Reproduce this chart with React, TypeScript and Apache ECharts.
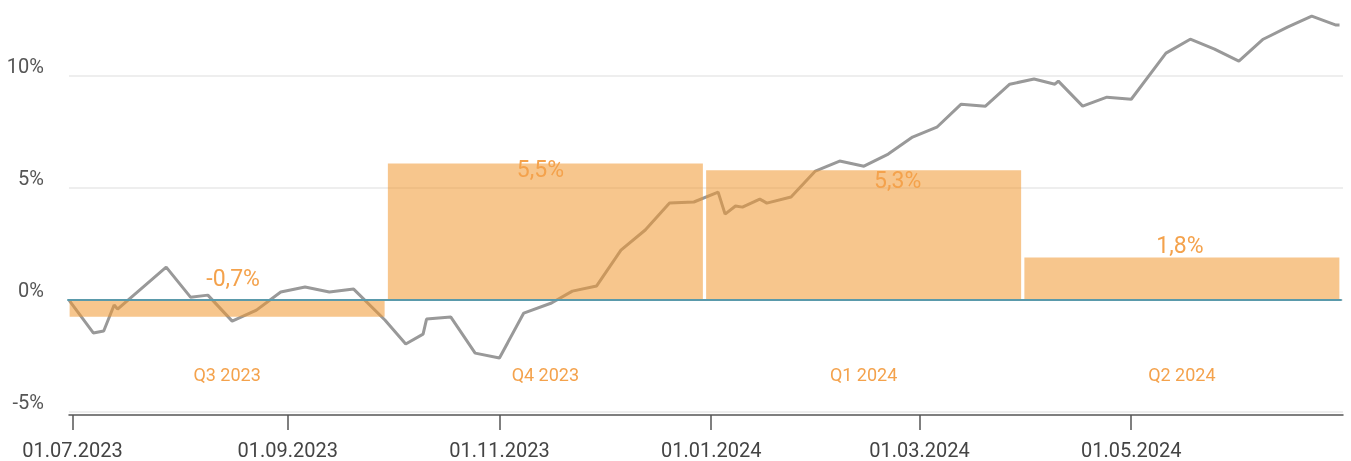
import React, { useEffect, useRef } from "react";
import * as echarts from "echarts";

// ---- data ----
const lineDates = [
  "2023-06-30", "2023-07-07", "2023-07-10", "2023-07-13", "2023-07-14", "2023-07-22", "2023-07-28",
  "2023-08-04", "2023-08-09", "2023-08-16", "2023-08-23", "2023-08-30", "2023-09-06", "2023-09-13",
  "2023-09-20", "2023-09-29", "2023-10-05", "2023-10-10", "2023-10-11", "2023-10-18", "2023-10-25",
  "2023-11-01", "2023-11-08", "2023-11-16", "2023-11-22", "2023-11-29", "2023-12-06", "2023-12-13",
  "2023-12-20", "2023-12-27", "2024-01-03", "2024-01-05", "2024-01-08", "2024-01-10", "2024-01-15",
  "2024-01-17", "2024-01-24", "2024-01-31", "2024-02-07", "2024-02-14", "2024-02-21", "2024-02-28",
  "2024-03-06", "2024-03-13", "2024-03-20", "2024-03-27", "2024-04-03", "2024-04-09", "2024-04-10",
  "2024-04-17", "2024-04-24", "2024-05-01", "2024-05-11", "2024-05-18", "2024-05-25", "2024-06-01",
  "2024-06-08", "2024-06-15", "2024-06-22", "2024-06-29", "2024-06-30",
];
const lineValues = [
  0, -1.47, -1.38, -0.22, -0.4, 0.67, 1.47,
  0.13, 0.22, -0.94, -0.45, 0.36, 0.58, 0.36,
  0.49, -0.89, -1.96, -1.52, -0.85, -0.76, -2.37,
  -2.59, -0.58, -0.13, 0.4, 0.63, 2.23, 3.13,
  4.33, 4.38, 4.82, 3.84, 4.2, 4.15, 4.51,
  4.33, 4.6, 5.76, 6.21, 5.98, 6.52, 7.28,
  7.72, 8.75, 8.66, 9.64, 9.87, 9.64, 9.78,
  8.66, 9.06, 8.97, 11.03, 11.65, 11.21, 10.67,
  11.65, 12.19, 12.68, 12.28, 12.28,
];
const quarters = ["Q3 2023", "Q4 2023", "Q1 2024", "Q2 2024"];
const quarterReturns = [-0.7, 5.5, 5.3, 1.8];
const quarterBarHeights = [-0.75, 6.1, 5.8, 1.9];
const dateTicks = ["2023-07-01", "2023-09-01", "2023-11-01", "2024-01-01", "2024-03-01", "2024-05-01"];
const yTicks = [-5, 0, 5, 10];
const xStart = "2023-06-30";
const xEnd = "2024-07-01";
const yMin = -5;
const yMax = 13;

const ts = (d: string) => {
  const [y, m, dd] = d.split("-").map(Number);
  return Date.UTC(y, m - 1, dd);
};
const pad = (n: number) => (n < 10 ? "0" + n : "" + n);
const fmtDate = (v: number) => {
  const d = new Date(v);
  return pad(d.getUTCDate()) + "." + pad(d.getUTCMonth() + 1) + "." + d.getUTCFullYear();
};
const fmtPct = (v: number) => v.toFixed(1).replace(".", ",") + "%";

const ORANGE_TEXT = "#F4A24C";
const FONT = "Roboto";

// label placement per bar (style only)
const labelStyles = [
  { position: "top", distance: 10, offset: [6, 0] },
  { position: "insideTop", distance: -5, offset: [-5, 0] },
  { position: "insideTop", distance: -1, offset: [34, 0] },
  { position: "top", distance: 1, offset: [-2, 0] },
];

export default function App() {
  const ref = useRef<HTMLDivElement>(null);
  useEffect(() => {
    if (!ref.current) return;
    const chart = echarts.init(ref.current, undefined, { renderer: "svg" });
    const option: any = {
      animation: false,
      textStyle: { fontFamily: FONT },
      grid: [
        { left: 69, right: 8, top: 9, bottom: 49, containLabel: false, outerBoundsMode: "none" },
        { left: 68, right: 10, top: 9, bottom: 49, containLabel: false, outerBoundsMode: "none" },
      ],
      xAxis: [
        {
          type: "value",
          gridIndex: 0,
          min: ts(xStart),
          max: ts(xEnd),
          offset: 3,
          axisLine: { show: true, onZero: false, lineStyle: { color: "#555", width: 1.5 } },
          axisTick: {
            show: true,
            length: 15,
            lineStyle: { color: "#555", width: 1.5 },
            customValues: dateTicks.map(ts),
          },
          axisLabel: {
            customValues: dateTicks.map(ts),
            formatter: (v: number) => fmtDate(v),
            color: "#444",
            fontSize: 20,
            fontFamily: FONT,
            margin: 25,
          },
          splitLine: { show: false },
        },
        {
          type: "category",
          gridIndex: 1,
          data: quarters,
          z: 10,
          axisLine: { show: true, onZero: true, lineStyle: { color: "#5A9AAB", width: 2 } },
          axisTick: { show: false },
          axisLabel: { color: ORANGE_TEXT, fontSize: 18, fontFamily: FONT, margin: -47 },
          splitLine: { show: false },
        },
      ],
      yAxis: [
        {
          type: "value",
          gridIndex: 0,
          min: yMin,
          max: yMax,
          axisLine: { show: false },
          axisTick: { show: false, customValues: yTicks },
          axisLabel: {
            customValues: yTicks,
            formatter: (v: number) => v + "%",
            color: "#555",
            fontSize: 20,
            fontFamily: FONT,
            verticalAlign: "bottom",
            margin: 25,
          },
          splitLine: { show: true, lineStyle: { color: "#E8E8E8", width: 1.5 } },
        },
        {
          type: "value",
          gridIndex: 1,
          min: yMin,
          max: yMax,
          show: false,
          splitLine: { show: false },
        },
      ],
      series: [
        {
          type: "line",
          xAxisIndex: 0,
          yAxisIndex: 0,
          data: lineDates.map((d, i) => [ts(d), lineValues[i]]),
          showSymbol: false,
          symbol: "none",
          lineStyle: { color: "#999999", width: 3 },
          z: 2,
        },
        {
          type: "bar",
          xAxisIndex: 1,
          yAxisIndex: 1,
          barWidth: 315,
          z: 3,
          itemStyle: { color: "rgba(241,151,48,0.55)" },
          label: {
            show: true,
            color: ORANGE_TEXT,
            fontSize: 23,
            fontFamily: FONT,
          },
          data: quarterBarHeights.map((h, i) => ({
            value: h,
            label: {
              ...labelStyles[i],
              formatter: () => fmtPct(quarterReturns[i]),
            },
          })),
        },
      ],
    };
    chart.setOption(option);
    return () => chart.dispose();
  }, []);
  return (
    <div
      ref={ref}
      style={{ position: "fixed", left: 0, top: 0, width: 1351, height: 461 }}
    />
  );
}
